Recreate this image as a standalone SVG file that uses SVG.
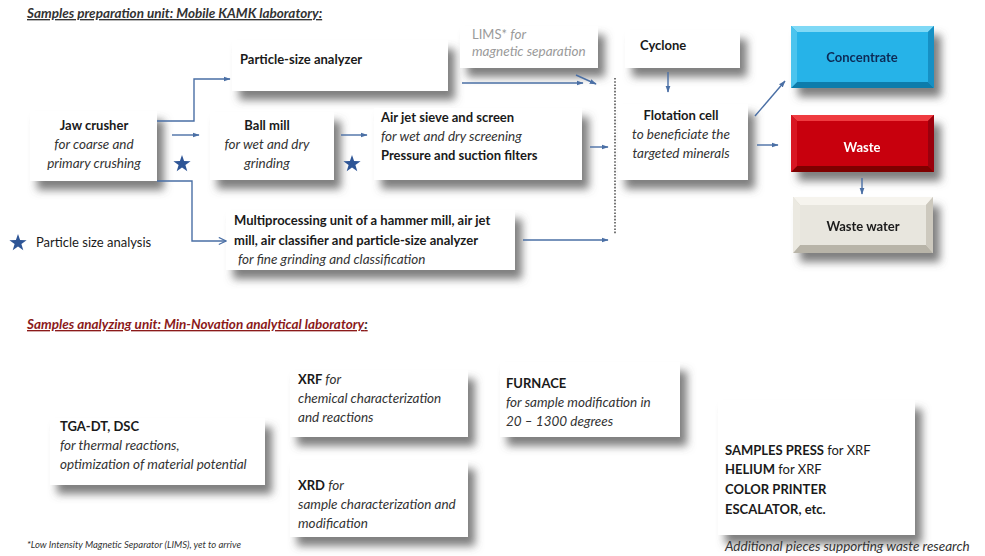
<svg xmlns="http://www.w3.org/2000/svg" width="985" height="556" viewBox="0 0 985 556">
<defs>
<filter id="sh" x="-20%" y="-30%" width="150%" height="180%">
<feDropShadow dx="7" dy="9" stdDeviation="4.5" flood-color="#555" flood-opacity="0.75"/>
</filter>
<marker id="ah" viewBox="0 0 10 10" refX="9" refY="5" markerWidth="7" markerHeight="7" orient="auto" markerUnits="userSpaceOnUse">
<path d="M0,1.5 L10,5 L0,8.5 Z" fill="#4a6fa5"/>
</marker>
<marker id="oa" viewBox="0 0 10 10" refX="9" refY="5" markerWidth="9" markerHeight="9" orient="auto" markerUnits="userSpaceOnUse">
<path d="M1,1 L9,5 L1,9" fill="none" stroke="#4a6fa5" stroke-width="1.3"/>
</marker>
<path id="star" d="M0,-9 L2.1,-2.9 L8.6,-2.8 L3.4,1.1 L5.3,7.3 L0,3.6 L-5.3,7.3 L-3.4,1.1 L-8.6,-2.8 L-2.1,-2.9 Z" fill="#2e5596"/>
</defs>
<style>
text{font-family:Lato,"Liberation Sans",sans-serif;font-size:13px;fill:#1a1a1a}
.b{font-weight:bold}
.i{font-style:italic;fill:#333;font-size:13.5px}
.g{fill:#9a9a9a}
.box{fill:#fff;filter:url(#sh)}
.c{stroke:#4a6fa5;stroke-width:1.4;fill:none}
.m{text-anchor:middle}
.title{font-weight:bold;font-style:italic;text-decoration:underline;font-size:13.5px}
</style>
<rect width="985" height="556" fill="#fff"/>
<text x="27" y="18" class="title" style="fill:#333">Samples preparation unit: Mobile KAMK laboratory:</text>
<text x="27" y="329" class="title" style="fill:#8b1a1a">Samples analyzing unit: Min-Novation analytical laboratory<tspan style="fill:#333;text-decoration:none">:</tspan></text>

<g id="particle">
<rect class="box" x="232" y="40" width="216" height="51"/>
<text x="240" y="64" class="b">Particle-size analyzer</text>
</g>
<g id="lims">
<rect class="box" x="460" y="26" width="138" height="42"/>
<text x="472" y="39" class="g">LIMS* <tspan class="i g">for</tspan></text>
<text x="472" y="56" class="i g">magnetic separation</text>
</g>
<g id="jaw">
<rect class="box" x="30" y="111" width="127" height="70"/>
<text x="94" y="130" class="b m">Jaw crusher</text>
<text x="94" y="149" class="i m">for coarse and</text>
<text x="94" y="168" class="i m">primary crushing</text>
</g>
<g id="ball">
<rect class="box" x="210" y="112" width="124" height="68"/>
<text x="267" y="130" class="b m">Ball mill</text>
<text x="267" y="149" class="i m">for wet and dry</text>
<text x="267" y="168" class="i m">grinding</text>
</g>
<g id="sieve">
<rect class="box" x="374" y="108" width="208" height="72"/>
<text x="381" y="122" class="b">Air jet sieve and screen</text>
<text x="381" y="141" class="i">for wet and dry screening</text>
<text x="381" y="160" class="b">Pressure and suction filters</text>
</g>
<g id="multi">
<rect class="box" x="226" y="210" width="289" height="60"/>
<text x="234" y="225" class="b">Multiprocessing unit of a hammer mill, air jet</text>
<text x="234" y="245" class="b">mill, air classifier and particle-size analyzer</text>
<text x="238" y="264" class="i">for fine grinding and classification</text>
</g>
<g id="cyclone">
<rect class="box" x="625" y="30" width="115" height="38"/>
<text x="640" y="50" class="b">Cyclone</text>
</g>
<g id="flotation">
<rect class="box" x="618" y="104" width="130" height="76"/>
<text x="681" y="120" class="b m">Flotation cell</text>
<text x="681" y="139" class="i m">to beneficiate the</text>
<text x="681" y="158" class="i m">targeted minerals</text>
</g>
<g id="concentrate" filter="url(#sh)">
<rect x="791" y="26" width="143" height="62" fill="#1c9fd4"/>
<polygon points="791,26 934,26 928,32 797,32" fill="#7fd9f6"/>
<polygon points="791,88 934,88 928,82 797,82" fill="#0d7bab"/>
<polygon points="791,26 797,32 797,82 791,88" fill="#4cc4ee"/>
<polygon points="934,26 928,32 928,82 934,88" fill="#1490c4"/>
<rect x="797" y="32" width="131" height="50" fill="#27b3e8"/>
<text x="862" y="62" class="b m" style="fill:#0c2a55">Concentrate</text>
</g>
<g id="waste" filter="url(#sh)">
<rect x="791" y="115" width="143" height="57" fill="#b00008"/>
<polygon points="791,115 934,115 928,121 797,121" fill="#ef3a40"/>
<polygon points="791,172 934,172 928,166 797,166" fill="#7e0005"/>
<polygon points="791,115 797,121 797,166 791,172" fill="#d81820"/>
<polygon points="934,115 928,121 928,166 934,172" fill="#9a0007"/>
<rect x="797" y="121" width="131" height="45" fill="#c8000c"/>
<text x="862" y="152" class="b m" style="fill:#fff">Waste</text>
</g>
<g id="wastewater" filter="url(#sh)">
<rect x="793" y="197" width="140" height="56" fill="#d9d6cc"/>
<polygon points="793,197 933,197 926,205 800,205" fill="#f6f4ee"/>
<polygon points="793,253 933,253 926,245 800,245" fill="#b8b4a8"/>
<polygon points="793,197 800,205 800,245 793,253" fill="#ebe9e1"/>
<polygon points="933,197 926,205 926,245 933,253" fill="#cdc9be"/>
<rect x="800" y="205" width="126" height="40" fill="#e8e6de"/>
<text x="863" y="231" class="b m">Waste water</text>
</g>

<g id="connectors">
<path class="c" d="M157,121 H194 V79 H230" marker-end="url(#ah)"/>
<path class="c" d="M157,181 H192 V241 H226" marker-end="url(#oa)"/>
<path class="c" d="M172,135 H199" marker-end="url(#ah)"/>
<path class="c" d="M341,135 H367" marker-end="url(#ah)"/>
<path class="c" d="M462,83 H583" marker-end="url(#ah)"/>
<path class="c" d="M576,75 L596,84" marker-end="url(#ah)"/>
<path class="c" d="M590,147 H608" marker-end="url(#ah)"/>
<path class="c" d="M523,240 H608" marker-end="url(#ah)"/>
<path d="M615,78 V234" stroke="#555" stroke-width="1.6" stroke-dasharray="1.6,1.6" fill="none"/>
<path class="c" d="M668,72 V92" marker-end="url(#ah)"/>
<path class="c" d="M755,116 L785,81" marker-end="url(#ah)"/>
<path class="c" d="M757,145 H778" marker-end="url(#ah)"/>
<path class="c" d="M862,178 V194" marker-end="url(#ah)"/>
</g>

<g id="stars">
<use href="#star" x="182" y="164"/>
<use href="#star" x="352" y="164"/>
<use href="#star" x="18" y="243"/>
<text x="36" y="247">Particle size analysis</text>
</g>

<g id="tga">
<rect class="box" x="50" y="418" width="215" height="67"/>
<text x="60" y="431" class="b">TGA-DT, DSC</text>
<text x="60" y="450" class="i">for thermal reactions,</text>
<text x="60" y="469" class="i">optimization of material potential</text>
</g>
<g id="xrf">
<rect class="box" x="290" y="370" width="178" height="67"/>
<text x="298" y="384" class="b">XRF <tspan class="i" style="font-weight:normal">for</tspan></text>
<text x="298" y="403" class="i">chemical characterization</text>
<text x="298" y="422" class="i">and reactions</text>
</g>
<g id="xrd">
<rect class="box" x="290" y="460" width="178" height="77"/>
<text x="298" y="490" class="b">XRD <tspan class="i" style="font-weight:normal">for</tspan></text>
<text x="298" y="509" class="i">sample characterization and</text>
<text x="298" y="528" class="i">modification</text>
</g>
<g id="furnace">
<rect class="box" x="500" y="362" width="180" height="75"/>
<text x="506" y="388" class="b">FURNACE</text>
<text x="506" y="407" class="i">for sample modification in</text>
<text x="506" y="426" class="i">20 – 1300 degrees</text>
</g>
<g id="press">
<rect class="box" x="718" y="400" width="197" height="135"/>
<text x="725" y="455" class="b">SAMPLES PRESS <tspan style="font-weight:normal">for XRF</tspan></text>
<text x="725" y="474" class="b">HELIUM <tspan style="font-weight:normal">for XRF</tspan></text>
<text x="725" y="494" class="b">COLOR PRINTER</text>
<text x="725" y="514" class="b">ESCALATOR, etc.</text>
<text x="725" y="551" class="i">Additional pieces supporting waste research</text>
</g>
<text x="27" y="548" class="i" style="font-size:9.5px">*Low Intensity Magnetic Separator (LIMS), yet to arrive</text>
</svg>
